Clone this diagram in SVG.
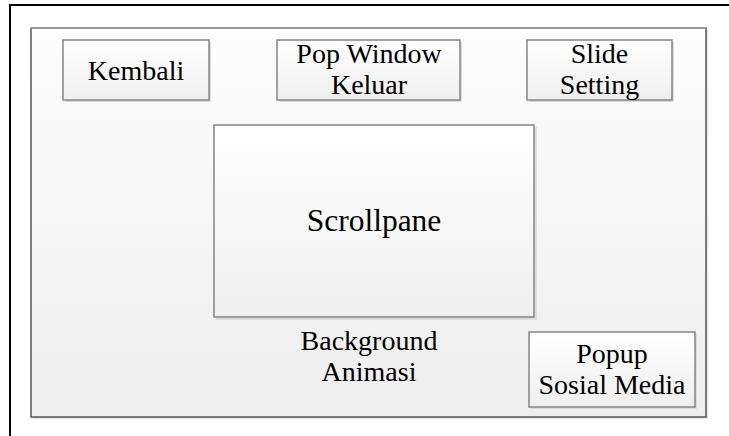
<svg xmlns="http://www.w3.org/2000/svg" width="729" height="436" viewBox="0 0 729 436">
<defs>
<linearGradient id="gPanel" x1="0" y1="0" x2="0" y2="1">
<stop offset="0" stop-color="#fdfdfd"/>
<stop offset="1" stop-color="#eeeeee"/>
</linearGradient>
<linearGradient id="gBox" x1="0" y1="0" x2="0" y2="1">
<stop offset="0" stop-color="#ffffff"/>
<stop offset="1" stop-color="#efefef"/>
</linearGradient>
</defs>
<style>
.box{fill:url(#gBox);stroke:#858585;stroke-width:1.5}
.shadow{fill:#dddddd}
.lbl{font-family:"Liberation Serif","Times New Roman",serif;font-size:28px;fill:#000;text-anchor:middle}
.big{font-size:31.5px}
</style>
<rect width="729" height="436" fill="#ffffff"/>
<g id="frame">
<line x1="9" y1="5" x2="729" y2="5" stroke="#000" stroke-width="2"/>
<line x1="10" y1="4" x2="10" y2="436" stroke="#000" stroke-width="2"/>
</g>
<g id="panel">
<rect x="33" y="30" width="675" height="389" fill="#e6e6e6"/>
<rect x="31" y="28" width="675" height="389" fill="url(#gPanel)" stroke="#555555" stroke-width="1.5"/>
<line x1="31" y1="28" x2="706" y2="28" stroke="#a6a6a6" stroke-width="1.5"/>
<text class="lbl" x="369" y="350">Background</text>
<text class="lbl" x="369" y="381">Animasi</text>
</g>
<g id="kembali">
<rect class="shadow" x="65" y="42" width="146" height="60"/>
<rect class="box" x="63" y="40" width="146" height="60"/>
<text class="lbl" x="136" y="80">Kembali</text>
</g>
<g id="popwindow">
<rect class="shadow" x="279" y="42" width="183" height="60"/>
<rect class="box" x="277" y="40" width="183" height="60"/>
<text class="lbl" x="369" y="63">Pop Window</text>
<text class="lbl" x="369" y="94">Keluar</text>
</g>
<g id="slide">
<rect class="shadow" x="529" y="42" width="145" height="60"/>
<rect class="box" x="527" y="40" width="145" height="60"/>
<text class="lbl" x="599.5" y="63">Slide</text>
<text class="lbl" x="599.5" y="94">Setting</text>
</g>
<g id="scrollpane">
<rect class="shadow" x="216" y="127" width="321" height="193"/>
<rect class="box" x="214" y="125" width="320" height="192"/>
<text class="lbl big" x="374" y="231">Scrollpane</text>
</g>
<g id="popup">
<rect class="shadow" x="531" y="334" width="166" height="75"/>
<rect class="box" x="529" y="332" width="166" height="75"/>
<text class="lbl" x="612" y="363">Popup</text>
<text class="lbl" x="612" y="394">Sosial Media</text>
</g>
<g id="connectors"/>
</svg>
